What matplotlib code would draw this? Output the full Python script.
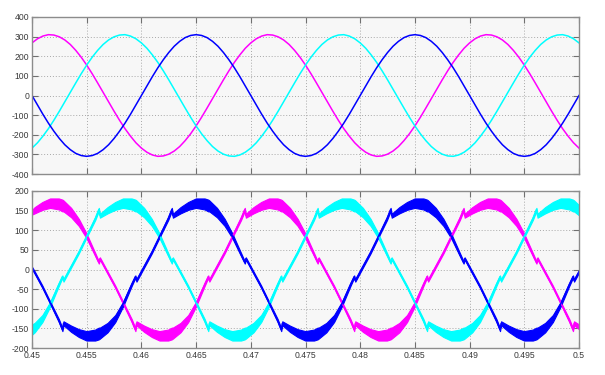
"""Three-phase voltages (top) and distorted line currents (bottom), scope style"""

import matplotlib
matplotlib.use('Agg')
import matplotlib.pyplot as plt
import numpy as np

plt.rcParams['font.family'] = ['Liberation Sans', 'DejaVu Sans']
plt.rcParams['axes.unicode_minus'] = False

# ---- tick values / labels
x_ticks = [0.45, 0.455, 0.46, 0.465, 0.47, 0.475, 0.48, 0.485, 0.49, 0.495, 0.5]
x_labels = ['0.45', '0.455', '0.46', '0.465', '0.47', '0.475', '0.48', '0.485', '0.49', '0.495', '0.5']
top_yticks = [-400, -300, -200, -100, 0, 100, 200, 300, 400]
bot_yticks = [-200, -150, -100, -50, 0, 50, 100, 150, 200]

# ---- top panel: phase voltages, sampled every 0.5 ms
t_top = [0.4500, 0.4505, 0.4510, 0.4515, 0.4520, 0.4525, 0.4530, 0.4535, 0.4540, 0.4545,
         0.4550, 0.4555, 0.4560, 0.4565, 0.4570, 0.4575, 0.4580, 0.4585, 0.4590, 0.4595,
         0.4600, 0.4605, 0.4610, 0.4615, 0.4620, 0.4625, 0.4630, 0.4635, 0.4640, 0.4645,
         0.4650, 0.4655, 0.4660, 0.4665, 0.4670, 0.4675, 0.4680, 0.4685, 0.4690, 0.4695,
         0.4700, 0.4705, 0.4710, 0.4715, 0.4720, 0.4725, 0.4730, 0.4735, 0.4740, 0.4745,
         0.4750, 0.4755, 0.4760, 0.4765, 0.4770, 0.4775, 0.4780, 0.4785, 0.4790, 0.4795,
         0.4800, 0.4805, 0.4810, 0.4815, 0.4820, 0.4825, 0.4830, 0.4835, 0.4840, 0.4845,
         0.4850, 0.4855, 0.4860, 0.4865, 0.4870, 0.4875, 0.4880, 0.4885, 0.4890, 0.4895,
         0.4900, 0.4905, 0.4910, 0.4915, 0.4920, 0.4925, 0.4930, 0.4935, 0.4940, 0.4945,
         0.4950, 0.4955, 0.4960, 0.4965, 0.4970, 0.4975, 0.4980, 0.4985, 0.4990, 0.4995,
         0.5000]
v_blue = [0, -48, -96, -141, -182, -219, -251, -276, -295, -306,
          -310, -306, -295, -276, -251, -219, -182, -141, -96, -48,
          0, 48, 96, 141, 182, 219, 251, 276, 295, 306,
          310, 306, 295, 276, 251, 219, 182, 141, 96, 48,
          0, -48, -96, -141, -182, -219, -251, -276, -295, -306,
          -310, -306, -295, -276, -251, -219, -182, -141, -96, -48,
          0, 48, 96, 141, 182, 219, 251, 276, 295, 306,
          310, 306, 295, 276, 251, 219, 182, 141, 96, 48,
          0, -48, -96, -141, -182, -219, -251, -276, -295, -306,
          -310, -306, -295, -276, -251, -219, -182, -141, -96, -48,
          0]
v_magenta = [268, 289, 303, 310, 308, 299, 283, 260, 230, 195,
             155, 111, 64, 16, -32, -80, -126, -169, -207, -241,
             -268, -289, -303, -310, -308, -299, -283, -260, -230, -195,
             -155, -111, -64, -16, 32, 80, 126, 169, 207, 241,
             268, 289, 303, 310, 308, 299, 283, 260, 230, 195,
             155, 111, 64, 16, -32, -80, -126, -169, -207, -241,
             -268, -289, -303, -310, -308, -299, -283, -260, -230, -195,
             -155, -111, -64, -16, 32, 80, 126, 169, 207, 241,
             268, 289, 303, 310, 308, 299, 283, 260, 230, 195,
             155, 111, 64, 16, -32, -80, -126, -169, -207, -241,
             -268]
v_cyan = [-268, -241, -207, -169, -126, -80, -32, 16, 64, 111,
          155, 195, 230, 260, 283, 299, 308, 310, 303, 289,
          268, 241, 207, 169, 126, 80, 32, -16, -64, -111,
          -155, -195, -230, -260, -283, -299, -308, -310, -303, -289,
          -268, -241, -207, -169, -126, -80, -32, 16, 64, 111,
          155, 195, 230, 260, 283, 299, 308, 310, 303, 289,
          268, 241, 207, 169, 126, 80, 32, -16, -64, -111,
          -155, -195, -230, -260, -283, -299, -308, -310, -303, -289,
          -268, -241, -207, -169, -126, -80, -32, 16, 64, 111,
          155, 195, 230, 260, 283, 299, 308, 310, 303, 289,
          268]

# ---- bottom panel: currents (centre of the ripple band) and ripple half-width
t_bot = [0.45, 0.45025, 0.45095, 0.45165, 0.45245,
         0.45278, 0.45288, 0.45358, 0.45428, 0.45498, 0.45578,
         0.45611, 0.45621, 0.45691, 0.45761, 0.45831, 0.45911,
         0.45945, 0.45955, 0.46025, 0.46095, 0.46165, 0.46245,
         0.46278, 0.46288, 0.46358, 0.46428, 0.46498, 0.46578,
         0.46611, 0.46621, 0.46691, 0.46761, 0.46831, 0.46911,
         0.46945, 0.46955, 0.47025, 0.47095, 0.47165, 0.47245,
         0.47278, 0.47288, 0.47358, 0.47428, 0.47498, 0.47578,
         0.47611, 0.47621, 0.47691, 0.47761, 0.47831, 0.47911,
         0.47945, 0.47955, 0.48025, 0.48095, 0.48165, 0.48245,
         0.48278, 0.48288, 0.48358, 0.48428, 0.48498, 0.48578,
         0.48611, 0.48621, 0.48691, 0.48761, 0.48831, 0.48911,
         0.48945, 0.48955, 0.49025, 0.49095, 0.49165, 0.49245,
         0.49278, 0.49288, 0.49358, 0.49428, 0.49498, 0.49578,
         0.49611, 0.49621, 0.49691, 0.49761, 0.49831, 0.49911,
         0.49945, 0.49955, 0.5]

i_blue = [4, -8, -44, -84, -130,
          -153, -137, -151, -162, -169, -167,
          -163, -162, -148, -125, -89, -38,
          -18, -28, 8, 44, 84, 130,
          153, 137, 151, 162, 169, 167,
          163, 162, 145, 120, 86, 38,
          18, 28, -8, -44, -84, -130,
          -153, -137, -151, -162, -169, -167,
          -163, -162, -148, -125, -89, -38,
          -18, -28, 8, 44, 84, 130,
          153, 137, 151, 162, 169, 167,
          163, 162, 145, 120, 86, 38,
          18, 28, -8, -44, -84, -130,
          -153, -137, -151, -162, -169, -167,
          -163, -162, -148, -125, -89, -38,
          -18, -28, -5]
i_magenta = [146, 151, 162, 169, 167,
             163, 162, 145, 120, 86, 38,
             18, 28, -8, -44, -84, -130,
             -153, -137, -151, -162, -169, -167,
             -163, -162, -148, -125, -89, -38,
             -18, -28, 8, 44, 84, 130,
             153, 137, 151, 162, 169, 167,
             163, 162, 145, 120, 86, 38,
             18, 28, -8, -44, -84, -130,
             -153, -137, -151, -162, -169, -167,
             -163, -162, -148, -125, -89, -38,
             -18, -28, 8, 44, 84, 130,
             153, 137, 151, 162, 169, 167,
             163, 162, 145, 120, 86, 38,
             18, 28, -8, -44, -84, -130,
             -153, -137, -146]
i_cyan = [-153, -148, -125, -89, -38,
          -18, -28, 8, 44, 84, 130,
          153, 137, 151, 162, 169, 167,
          163, 162, 145, 120, 86, 38,
          18, 28, -8, -44, -84, -130,
          -153, -137, -151, -162, -169, -167,
          -163, -162, -148, -125, -89, -38,
          -18, -28, 8, 44, 84, 130,
          153, 137, 151, 162, 169, 167,
          163, 162, 145, 120, 86, 38,
          18, 28, -8, -44, -84, -130,
          -153, -137, -151, -162, -169, -167,
          -163, -162, -148, -125, -89, -38,
          -18, -28, 8, 44, 84, 130,
          153, 137, 151, 162, 169, 167,
          163, 162, 151]

r_blue = [3, 3, 3, 3, 4,
          4, 5, 8, 10, 12, 14,
          15, 14, 12, 9, 6, 4,
          3, 3, 3, 3, 3, 4,
          4, 5, 8, 10, 12, 14,
          15, 14, 12, 9, 6, 4,
          3, 3, 3, 3, 3, 4,
          4, 5, 8, 10, 12, 14,
          15, 14, 12, 9, 6, 4,
          3, 3, 3, 3, 3, 4,
          4, 5, 8, 10, 12, 14,
          15, 14, 12, 9, 6, 4,
          3, 3, 3, 3, 3, 4,
          4, 5, 8, 10, 12, 14,
          15, 14, 12, 9, 6, 4,
          3, 3, 3]
r_magenta = [6, 8, 10, 12, 14,
             15, 14, 12, 9, 6, 4,
             3, 3, 3, 3, 3, 4,
             4, 5, 8, 10, 12, 14,
             15, 14, 12, 9, 6, 4,
             3, 3, 3, 3, 3, 4,
             4, 5, 8, 10, 12, 14,
             15, 14, 12, 9, 6, 4,
             3, 3, 3, 3, 3, 4,
             4, 5, 8, 10, 12, 14,
             15, 14, 12, 9, 6, 4,
             3, 3, 3, 3, 3, 4,
             4, 5, 8, 10, 12, 14,
             15, 14, 12, 9, 6, 4,
             3, 3, 3, 3, 3, 4,
             4, 5, 6]
r_cyan = [13, 12, 9, 6, 4,
          3, 3, 3, 3, 3, 4,
          4, 5, 8, 10, 12, 14,
          15, 14, 12, 9, 6, 4,
          3, 3, 3, 3, 3, 4,
          4, 5, 8, 10, 12, 14,
          15, 14, 12, 9, 6, 4,
          3, 3, 3, 3, 3, 4,
          4, 5, 8, 10, 12, 14,
          15, 14, 12, 9, 6, 4,
          3, 3, 3, 3, 3, 4,
          4, 5, 8, 10, 12, 14,
          15, 14, 12, 9, 6, 4,
          3, 3, 3, 3, 3, 4,
          4, 5, 8, 10, 12, 14,
          15, 14, 13]


def style_axes(ax, yticks):
    ax.set_facecolor('#f7f7f7')
    ax.set_axisbelow(True)
    ax.set_xlim(0.45, 0.5)
    ax.set_ylim(yticks[0], yticks[-1])
    ax.set_xticks(x_ticks)
    ax.set_yticks(yticks)
    ax.grid(True, color='#a8a8a8', linestyle=(0, (1, 2)), linewidth=0.7)
    ax.tick_params(direction='in', length=4, width=0.8, color='#707070',
                   top=True, right=True, labelsize=6.2, labelcolor='#3a3a3a', pad=2)
    for sp in ax.spines.values():
        sp.set_color('#8c8c8c')
        sp.set_linewidth(1.0)


fig = plt.figure(figsize=(6.05, 3.75), dpi=100)
ax_top = fig.add_axes([32 / 605, 1 - 174 / 375, 547 / 605, 157 / 375])
ax_bot = fig.add_axes([32 / 605, 1 - 348 / 375, 547 / 605, 157 / 375])

# voltages
ax_top.plot(t_top, v_magenta, color='#ff00ff', linewidth=1.1)
ax_top.plot(t_top, v_cyan, color='#00ffff', linewidth=1.1)
ax_top.plot(t_top, v_blue, color='#0000ff', linewidth=1.1)
style_axes(ax_top, top_yticks)
ax_top.tick_params(labelbottom=False)

# currents drawn as a ripple band around the mean
t = np.array(t_bot)
for i_vals, r_vals, col in [(i_magenta, r_magenta, '#ff00ff'),
                            (i_cyan, r_cyan, '#00ffff'),
                            (i_blue, r_blue, '#0000ff')]:
    c = np.array(i_vals)
    r = np.array(r_vals)
    ax_bot.fill_between(t, c - r, c + r, color=col, linewidth=0.8)
    ax_bot.plot(t, c, color=col, linewidth=1.0)
style_axes(ax_bot, bot_yticks)
ax_bot.set_xticklabels(x_labels)

fig.savefig('out.png', dpi=100)
